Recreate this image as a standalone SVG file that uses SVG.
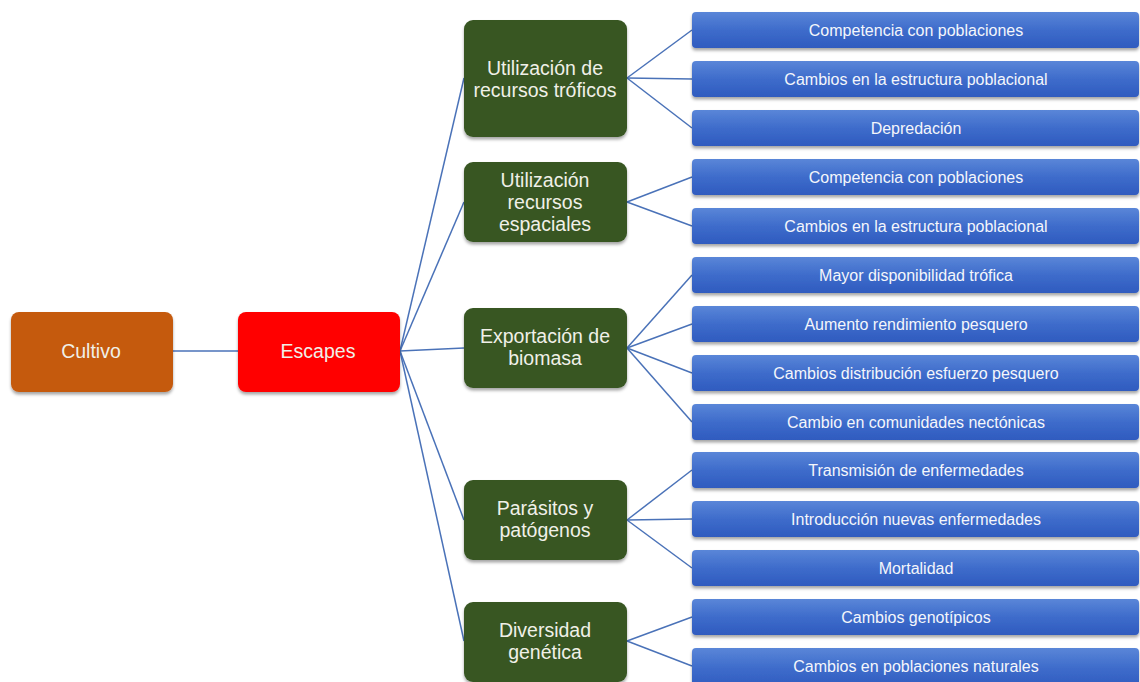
<svg xmlns="http://www.w3.org/2000/svg" width="1140" height="682" viewBox="0 0 1140 682">
<defs>
<linearGradient id="bg" x1="0" y1="0" x2="0" y2="1">
<stop offset="0" stop-color="#5A86D8"/>
<stop offset="0.5" stop-color="#3E6CCB"/>
<stop offset="1" stop-color="#2F5BBF"/>
</linearGradient>
<filter id="sh" x="-10%" y="-20%" width="120%" height="160%">
<feDropShadow dx="0" dy="2.5" stdDeviation="1.8" flood-color="#000" flood-opacity="0.35"/>
</filter>
<style>
.c{stroke:#4A72B8;stroke-width:1.5;fill:none}
.blue rect{fill:url(#bg);filter:url(#sh)}
.blue text{fill:#F4F6FB;font-family:"Liberation Sans",Arial,sans-serif;font-size:16px;text-anchor:middle}
.g rect{fill:#375623;filter:url(#sh)}
.g text, .m text{fill:#F0F0E8;font-family:"Liberation Sans",Arial,sans-serif;font-size:19.5px;text-anchor:middle}
</style>
</defs>
<rect width="1140" height="682" fill="#FFFFFF"/>
<g id="connectors">
<line class="c" x1="173" y1="351" x2="238" y2="351"/>
<line class="c" x1="400" y1="351" x2="464" y2="78"/>
<line class="c" x1="400" y1="351" x2="464" y2="202"/>
<line class="c" x1="400" y1="351" x2="464" y2="348"/>
<line class="c" x1="400" y1="351" x2="464" y2="520"/>
<line class="c" x1="400" y1="351" x2="464" y2="641"/>
<line class="c" x1="627" y1="78" x2="692" y2="30"/>
<line class="c" x1="627" y1="78" x2="692" y2="79"/>
<line class="c" x1="627" y1="78" x2="692" y2="128"/>
<line class="c" x1="627" y1="202" x2="692" y2="177"/>
<line class="c" x1="627" y1="202" x2="692" y2="226"/>
<line class="c" x1="627" y1="348" x2="692" y2="275"/>
<line class="c" x1="627" y1="348" x2="692" y2="324"/>
<line class="c" x1="627" y1="348" x2="692" y2="373"/>
<line class="c" x1="627" y1="348" x2="692" y2="422"/>
<line class="c" x1="627" y1="520" x2="692" y2="470"/>
<line class="c" x1="627" y1="520" x2="692" y2="519"/>
<line class="c" x1="627" y1="520" x2="692" y2="568"/>
<line class="c" x1="627" y1="641" x2="692" y2="617"/>
<line class="c" x1="627" y1="641" x2="692" y2="666"/>
</g>
<g id="cultivo" class="m">
<rect x="11" y="312" width="162" height="80" rx="8" fill="#C55A11" filter="url(#sh)"/>
<text x="91" y="358">Cultivo</text>
</g>
<g id="escapes" class="m">
<rect x="238" y="312" width="162" height="80" rx="8" fill="#FF0000" filter="url(#sh)"/>
<text x="318" y="358">Escapes</text>
</g>
<g id="g1" class="g">
<rect x="464" y="20" width="163" height="117" rx="9"/>
<text x="545" y="75">Utilización de</text>
<text x="545" y="97">recursos tróficos</text>
</g>
<g id="g2" class="g">
<rect x="464" y="162" width="163" height="80" rx="9"/>
<text x="545" y="187">Utilización</text>
<text x="545" y="209">recursos</text>
<text x="545" y="231">espaciales</text>
</g>
<g id="g3" class="g">
<rect x="464" y="308" width="163" height="80" rx="9"/>
<text x="545" y="343">Exportación de</text>
<text x="545" y="365">biomasa</text>
</g>
<g id="g4" class="g">
<rect x="464" y="480" width="163" height="80" rx="9"/>
<text x="545" y="515">Parásitos y</text>
<text x="545" y="537">patógenos</text>
</g>
<g id="g5" class="g">
<rect x="464" y="602" width="163" height="80" rx="9"/>
<text x="545" y="637">Diversidad</text>
<text x="545" y="659">genética</text>
</g>
<g id="b1" class="blue"><rect x="692" y="12" width="447" height="36" rx="4"/><text x="916" y="36">Competencia con poblaciones</text></g>
<g id="b2" class="blue"><rect x="692" y="61" width="447" height="36" rx="4"/><text x="916" y="85">Cambios en la estructura poblacional</text></g>
<g id="b3" class="blue"><rect x="692" y="110" width="447" height="36" rx="4"/><text x="916" y="134">Depredación</text></g>
<g id="b4" class="blue"><rect x="692" y="159" width="447" height="36" rx="4"/><text x="916" y="183">Competencia con poblaciones</text></g>
<g id="b5" class="blue"><rect x="692" y="208" width="447" height="36" rx="4"/><text x="916" y="232">Cambios en la estructura poblacional</text></g>
<g id="b6" class="blue"><rect x="692" y="257" width="447" height="36" rx="4"/><text x="916" y="281">Mayor disponibilidad trófica</text></g>
<g id="b7" class="blue"><rect x="692" y="306" width="447" height="36" rx="4"/><text x="916" y="330">Aumento rendimiento pesquero</text></g>
<g id="b8" class="blue"><rect x="692" y="355" width="447" height="36" rx="4"/><text x="916" y="379">Cambios distribución esfuerzo pesquero</text></g>
<g id="b9" class="blue"><rect x="692" y="404" width="447" height="36" rx="4"/><text x="916" y="428">Cambio en comunidades nectónicas</text></g>
<g id="b10" class="blue"><rect x="692" y="452" width="447" height="36" rx="4"/><text x="916" y="476">Transmisión de enfermedades</text></g>
<g id="b11" class="blue"><rect x="692" y="501" width="447" height="36" rx="4"/><text x="916" y="525">Introducción nuevas enfermedades</text></g>
<g id="b12" class="blue"><rect x="692" y="550" width="447" height="36" rx="4"/><text x="916" y="574">Mortalidad</text></g>
<g id="b13" class="blue"><rect x="692" y="599" width="447" height="36" rx="4"/><text x="916" y="623">Cambios genotípicos</text></g>
<g id="b14" class="blue"><rect x="692" y="648" width="447" height="40" rx="4"/><text x="916" y="672">Cambios en poblaciones naturales</text></g>
</svg>
